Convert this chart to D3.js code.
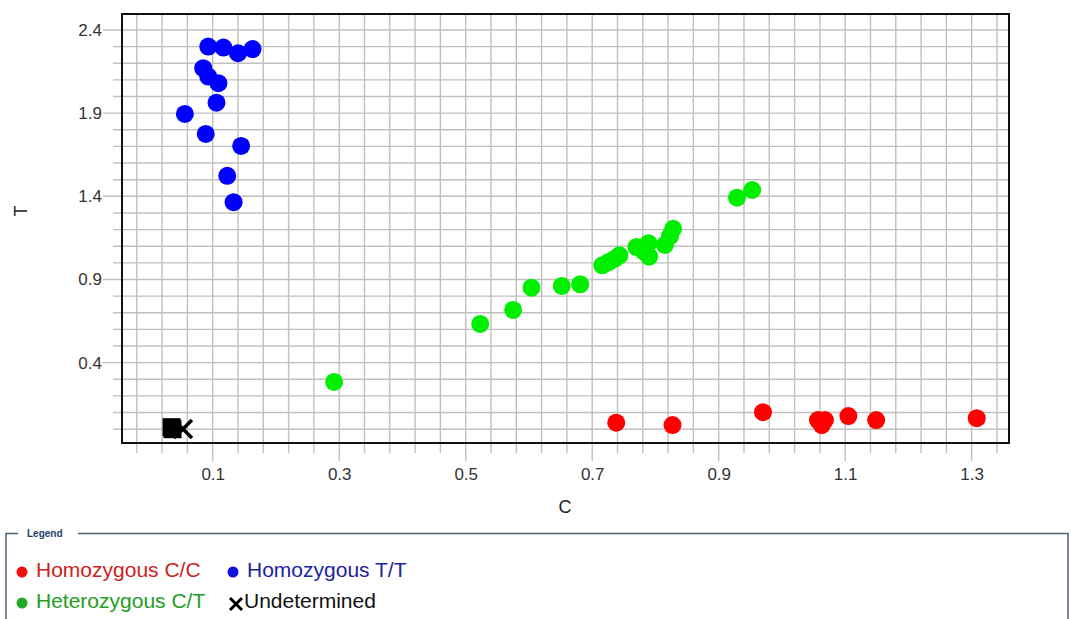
<!DOCTYPE html>
<html>
<head>
<meta charset="utf-8">
<script src="https://cdn.jsdelivr.net/npm/d3@7"></script>
<style>
  html, body { margin: 0; padding: 0; background: #ffffff; }
  svg { display: block; font-family: "Liberation Sans", Arial, sans-serif; }
</style>
</head>
<body>
<svg id="chart" width="1071" height="619"></svg>
<script>
// Allele discrimination plot: C allele signal (x) vs T allele signal (y)

// Homozygous C/C samples  [C, T]
const homozygousCC = [
  [0.738, 0.039], [0.827, 0.025], [0.970, 0.102], [1.057, 0.055],
  [1.063, 0.025], [1.068, 0.055], [1.105, 0.079], [1.149, 0.055],
  [1.308, 0.066]
];

// Homozygous T/T samples  [C, T]
const homozygousTT = [
  [0.093, 2.300], [0.117, 2.294], [0.140, 2.260], [0.163, 2.285],
  [0.085, 2.170], [0.093, 2.120], [0.109, 2.080], [0.106, 1.963],
  [0.056, 1.895], [0.089, 1.775], [0.145, 1.703], [0.123, 1.523],
  [0.133, 1.365]
];

// Heterozygous C/T samples  [C, T]
const heterozygousCT = [
  [0.292, 0.284], [0.523, 0.633], [0.575, 0.717], [0.604, 0.851],
  [0.652, 0.861], [0.681, 0.871], [0.716, 0.985], [0.726, 1.005],
  [0.736, 1.025], [0.743, 1.045], [0.770, 1.095], [0.782, 1.068],
  [0.789, 1.118], [0.790, 1.037], [0.815, 1.108], [0.823, 1.160],
  [0.828, 1.205], [0.929, 1.392], [0.953, 1.438]
];

// No-template control wells  [C, T]
const noTemplateControl = [
  [0.0364, 0.000], [0.0350, 0.012]
];

// Undetermined samples  [C, T]
const undetermined = [
  [0.053, 0.001]
];

// Axis tick labels
const xTickLabels = [0.1, 0.3, 0.5, 0.7, 0.9, 1.1, 1.3];
const yTickLabels = [0.4, 0.9, 1.4, 1.9, 2.4];

// Legend entries
const legendLabels = ["Homozygous C/C", "Homozygous T/T", "Heterozygous C/T", "Undetermined"];

const svg = d3.select("#chart");

const plot = { left: 122, right: 1009, top: 14, bottom: 443 };

const x = d3.scaleLinear().domain([-0.0434, 1.359]).range([plot.left, plot.right]);
const y = d3.scaleLinear().domain([-0.083, 2.496]).range([plot.bottom, plot.top]);

// Grid lines: every 0.04 on C, every 0.1 on T
const xGrid = d3.range(-0.02, 1.35, 0.04).map(v => +v.toFixed(2));
const yGrid = d3.range(0, 2.45, 0.1).map(v => +v.toFixed(1));
const isLabelledX = v => xTickLabels.some(t => Math.abs(t - v) < 1e-6);
const isLabelledY = v => yTickLabels.some(t => Math.abs(t - v) < 1e-6);

const grid = svg.append("g").attr("stroke", "#c0c0c0").attr("stroke-width", 1.4);
grid.selectAll("line.gx").data(xGrid).join("line")
  .attr("class", "gx")
  .attr("x1", d => x(d)).attr("x2", d => x(d))
  .attr("y1", plot.top)
  .attr("y2", d => plot.bottom + (isLabelledX(d) ? 18 : 10));
grid.selectAll("line.gy").data(yGrid).join("line")
  .attr("class", "gy")
  .attr("y1", d => y(d)).attr("y2", d => y(d))
  .attr("x1", d => plot.left - (isLabelledY(d) ? 19 : 9))
  .attr("x2", plot.right);

// Tick labels via d3 axes (tick lines hidden, grid drawn above)
const xAxis = svg.append("g")
  .attr("transform", `translate(0,${plot.bottom})`)
  .call(d3.axisBottom(x).tickValues(xTickLabels).tickFormat(d3.format(".1f")).tickSize(0).tickPadding(25));
const yAxis = svg.append("g")
  .attr("transform", `translate(${plot.left},0)`)
  .call(d3.axisLeft(y).tickValues(yTickLabels).tickFormat(d3.format(".1f")).tickSize(0).tickPadding(20));
[xAxis, yAxis].forEach(a => {
  a.select(".domain").remove();
  a.selectAll("text").attr("font-size", 17).attr("fill", "#333")
    .attr("font-family", "'Liberation Sans', Arial, sans-serif");
});

// Plot frame
svg.append("rect")
  .attr("x", plot.left).attr("y", plot.top)
  .attr("width", plot.right - plot.left).attr("height", plot.bottom - plot.top)
  .attr("fill", "none").attr("stroke", "#111").attr("stroke-width", 2);

// Axis titles
svg.append("text").attr("x", 565).attr("y", 513).attr("text-anchor", "middle")
  .attr("font-size", 18).attr("fill", "#222").text("C");
svg.append("text").attr("transform", "translate(27,211) rotate(-90)").attr("text-anchor", "middle")
  .attr("font-size", 18).attr("fill", "#222").text("T");

// Sample points
const r = 9;
function dots(data, color) {
  svg.append("g").selectAll("circle").data(data).join("circle")
    .attr("cx", d => x(d[0])).attr("cy", d => y(d[1])).attr("r", r)
    .attr("fill", color);
}
dots(homozygousCC, "#ff0000");
dots(homozygousTT, "#0000ff");
dots(heterozygousCT, "#00ee00");

// Undetermined crosses, drawn beneath the control squares
const xs = 9;
svg.append("g").selectAll("path").data(undetermined).join("path")
  .attr("d", d => {
    const cx = x(d[0]), cy = y(d[1]);
    return `M${cx - xs},${cy - xs}L${cx + xs},${cy + xs}M${cx - xs},${cy + xs}L${cx + xs},${cy - xs}`;
  })
  .attr("stroke", "#000").attr("stroke-width", 3.5).attr("fill", "none");

// No-template control squares
const sq = 9;
svg.append("g").selectAll("rect").data(noTemplateControl).join("rect")
  .attr("x", d => x(d[0]) - sq).attr("y", d => y(d[1]) - sq)
  .attr("width", 2 * sq).attr("height", 2 * sq).attr("fill", "#000");

// Legend group box
const lg = svg.append("g");
lg.append("path")
  .attr("d", "M6,619L6,533.5L18,533.5M78,533.5L1068,533.5L1068,619")
  .attr("fill", "none").attr("stroke", "#4a6078").attr("stroke-width", 1.5);
lg.append("text").attr("x", 27).attr("y", 537).attr("font-size", 10)
  .attr("font-weight", "bold").attr("fill", "#25406a").text("Legend");

const legendItems = [
  { label: legendLabels[0], dot: "#ee1111", text: "#cc2222", x: 22, y: 577 },
  { label: legendLabels[1], dot: "#1111dd", text: "#2222a0", x: 233, y: 577 },
  { label: legendLabels[2], dot: "#22aa22", text: "#22a022", x: 22, y: 608 },
  { label: legendLabels[3], dot: null, text: "#111", x: 236, y: 608 }
];
legendItems.forEach(it => {
  if (it.dot) {
    lg.append("circle").attr("cx", it.x).attr("cy", it.y - 5).attr("r", 5.5).attr("fill", it.dot);
  } else {
    const cx = it.x, cy = it.y - 4, s = 6;
    lg.append("path").attr("d", `M${cx - s},${cy - s}L${cx + s},${cy + s}M${cx - s},${cy + s}L${cx + s},${cy - s}`)
      .attr("stroke", "#000").attr("stroke-width", 3);
  }
  lg.append("text").attr("x", it.x + (it.dot ? 14 : 8)).attr("y", it.y)
    .attr("font-size", 21).attr("fill", it.text).text(it.label);
});
</script>
</body>
</html>
